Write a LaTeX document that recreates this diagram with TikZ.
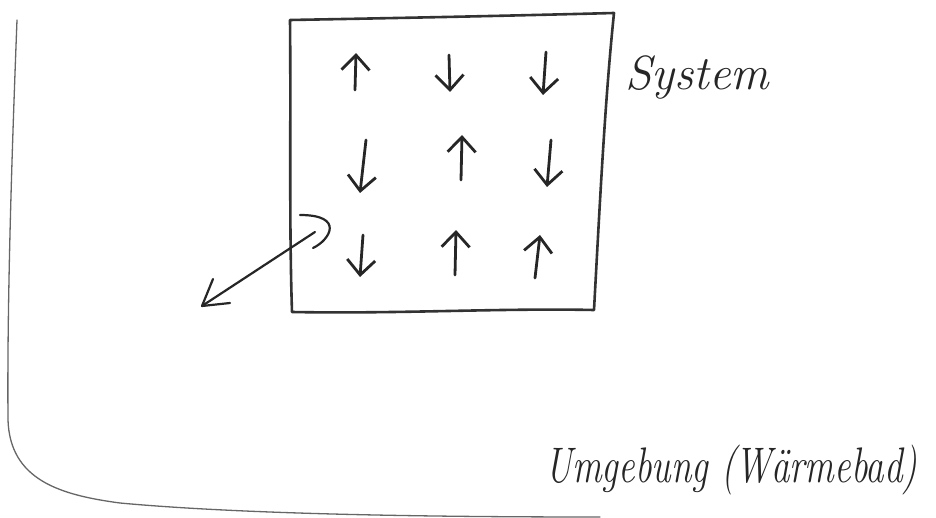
\documentclass[tikz,border=0pt]{standalone}
\usetikzlibrary{arrows.meta}
\begin{document}
\begin{tikzpicture}[x=1pt,y=-1pt,
  pen/.style={draw=black!85, line width=2.8pt, line cap=round, line join=round},
  frame/.style={draw=black!80, line width=2.6pt, line cap=round, line join=round},
  bath/.style={draw=black!60, line width=1.3pt, line cap=round},
  spin/.style={pen, -{Straight Barb[length=15pt,width=28pt,line width=2.8pt]}},
  hand/.style={text=black!85, inner sep=0pt, anchor=base west}]
  \useasboundingbox (0,0) rectangle (936,518);

  % heat bath boundary
  \draw[bath] (17,20) .. controls (12,150) and (7,300) .. (8,420)
     .. controls (10,480) and (60,495) .. (120,503)
     .. controls (250,515) and (450,517) .. (600,517);

  % system box
  \coordinate (tl) at (290,20);
  \coordinate (tr) at (614,13);
  \coordinate (br) at (594,310);
  \coordinate (bl) at (292,312);
  \draw[frame] (tl) .. controls (291,120) and (289,220) .. (bl)
     .. controls (400,314) and (500,308) .. (br)
     .. controls (600,200) and (605,100) .. (tr)
     .. controls (500,16) and (400,18) .. cycle;

  % spins, row 1
  \draw[spin] (355,90) -- (356,53);
  \draw[spin] (449,55) -- (450,92);
  \draw[spin] (546,52) -- (543,95);
  % spins, row 2
  \draw[spin] (366,140) -- (360,193);
  \draw[spin] (461,180) -- (462,135);
  \draw[spin] (551,140) -- (547,187);
  % spins, row 3
  \draw[spin] (363,235) -- (360,277);
  \draw[spin] (455,275) -- (456,230);
  \draw[spin] (535,278) -- (540,235);

  % energy exchange between system and bath
  \coordinate (ein) at (315,232);
  \coordinate (eout) at (202,306);
  \draw[pen, line width=2.2pt] (eout) -- (ein);
  \draw[pen, line width=2.2pt] (300,215) .. controls (345,215) and (330,240) .. (313,248);
  \draw[pen, line width=2.2pt] (213,279) -- (eout) -- (230,303);

  % labels
  \node[hand, font=\fontsize{48}{52}\selectfont\itshape] (sys) at (625,90) {System};
  \node[hand, font=\fontsize{37}{42}\selectfont\itshape] (env) at (545,482)
    {\scalebox{1}[1.35]{Umgebung (W\"armebad)}};
\end{tikzpicture}
\end{document}
